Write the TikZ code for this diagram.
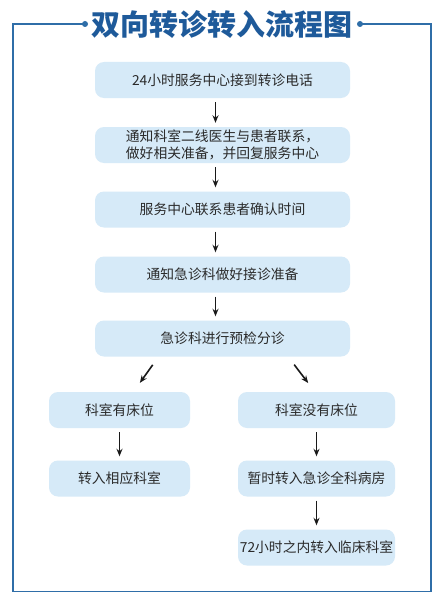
\documentclass[tikz,border=0pt]{standalone}
\usepackage{fontspec}
\setmainfont{Noto Sans CJK SC}
\usetikzlibrary{arrows.meta,calc}
\definecolor{boxblue}{HTML}{D6EAF8}
\definecolor{frameblue}{HTML}{2F6EA8}
\definecolor{titleblue}{HTML}{1E5A9A}
\definecolor{textgray}{HTML}{2A2A2A}
\begin{document}
\begin{tikzpicture}[x=1pt,y=-1pt,
  box/.style={fill=boxblue, rounded corners=9pt, text=textgray,
    font=\fontsize{13.8}{17}\selectfont, align=center, inner sep=0pt,
    minimum height=36pt},
  mainbox/.style={box, minimum width=255pt},
  leftbox/.style={box, minimum width=141pt},
  rightbox/.style={box, minimum width=157pt},
  arr/.style={-{Stealth[length=7.5pt,width=6pt]}, line width=1.6pt, draw=black!90,
    shorten <=4pt, shorten >=4pt},
  frame/.style={draw=frameblue, line width=1.5pt}]
\useasboundingbox (0,0) rectangle (445,602);
\fill[white] (0,0) rectangle (445,602);

% frame and title
\node[font=\fontsize{29}{31}\selectfont\bfseries, text=titleblue, inner sep=0pt] (title) at (222,24) {双向转诊转入流程图};
\coordinate (dl) at (85,24);
\coordinate (dr) at (360,24);
\draw[frame] (dl) -- (13,24) -- (13,591.5) -- (431,591.5) -- (431,24) -- (dr);
\fill[frameblue] (dl) circle (3pt);
\fill[frameblue] (dr) circle (3pt);

% nodes
\node[mainbox] (n1) at (222.5,80) {24小时服务中心接到转诊电话};
\node[mainbox] (n2) at (222.5,145) {通知科室二线医生与患者联系，\\做好相关准备，并回复服务中心};
\node[mainbox] (n3) at (222.5,209.5) {服务中心联系患者确认时间};
\node[mainbox] (n4) at (222.5,274.5) {通知急诊科做好接诊准备};
\node[mainbox] (n5) at (222.5,338.5) {急诊科进行预检分诊};
\node[leftbox] (l1) at (119.5,410) {科室有床位};
\node[leftbox] (l2) at (119.5,478.5) {转入相应科室};
\node[rightbox] (r1) at (316.5,410) {科室没有床位};
\node[rightbox] (r2) at (316.5,478.5) {暂时转入急诊全科病房};
\node[rightbox] (r3) at (316.5,547.5) {72小时之内转入临床科室};

% connectors
\draw[arr] ([xshift=-7pt]n1.south) -- ([xshift=-7pt]n2.north);
\draw[arr] ([xshift=-7pt]n2.south) -- ([xshift=-7pt]n3.north);
\draw[arr] ([xshift=-7pt]n3.south) -- ([xshift=-7pt]n4.north);
\draw[arr] ([xshift=-7pt]n4.south) -- ([xshift=-7pt]n5.north);
\draw[arr, shorten <=10pt, shorten >=11pt] ([xshift=-64pt]n5.south) -- ([xshift=14pt]l1.north);
\draw[arr, shorten <=10pt, shorten >=11pt] ([xshift=65.6pt]n5.south) -- ([xshift=-1.6pt]r1.north);
\draw[arr] (l1.south) -- (l2.north);
\draw[arr] (r1.south) -- (r2.north);
\draw[arr] (r2.south) -- (r3.north);
\end{tikzpicture}
\end{document}
